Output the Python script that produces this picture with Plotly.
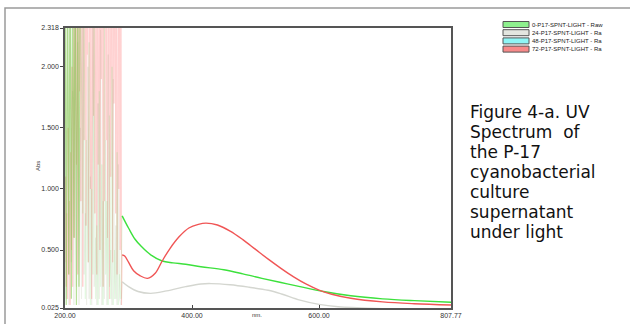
import plotly.graph_objects as go

# ---------------- data ----------------
# wavelength grids of the saturated (noisy) region
red_noise_nm = list(range(200, 290, 1))
noise_nm = list(range(200, 290, 2))

red_noise = [0.4, 1.1, 0.2, 0.8, 0.1, 1.5, 0.3, 0.9, 0.05, 1.3, 0.5, 2.0, 0.2, 1.0,
             3, 0.6, 3, 3, 1.2, 3, 0.3, 3, 3, 1.8, 3, 0.9, 3, 3, 0.2, 3, 1.4, 3, 3, 0.7,
             3, 2.1, 3, 0.4, 3, 3, 1.0, 3, 0.1, 3, 3, 1.6, 3, 0.8, 3, 3, 0.3, 3, 1.2, 3,
             3, 0.5, 3, 1.9, 3, 3, 0.2, 3, 0.9, 3, 3, 1.4, 3, 0.6, 3, 3, 0.1, 3, 1.1, 3,
             3, 0.4, 3, 1.7, 3, 3, 0.8, 3, 0.3, 3, 3, 1.0, 3, 0.5, 3, 0.05]
green_noise = [3, 0.05, 3, 0.3, 3, 0.1, 3, 0.6, 3, 0.05, 3, 0.2, 3,
               1.9, 0.8, 3, 0.1, 1.4, 0.4, 2.2, 0.05,
               1.0, 0.3, 2.6, 0.1, 0.7, 0.05, 1.8, 0.2,
               1.2, 0.05, 2.4, 0.3, 0.9, 0.05, 1.6, 0.1,
               2.0, 0.05, 0.5, 0.1, 1.3, 0.05, 0.3, 0.1]
gray_noise = [3, 0.1, 2.5, 0.05, 3, 0.4, 1.8, 0.05,
              3, 0.2, 2.2, 0.05, 1.5, 0.1, 3, 0.3,
              0.8, 0.05, 2.0, 0.1, 1.1, 0.05, 2.7, 0.2,
              0.6, 0.05, 1.7, 0.1, 2.3, 0.05, 0.9, 0.1,
              1.4, 0.05, 2.1, 0.2, 0.5, 0.05, 1.9, 0.1,
              0.7, 0.05, 1.2, 0.1, 0.05]

green_nm = [290, 300, 310, 320, 335, 353, 370, 390, 414, 450, 480, 510, 540,
            570, 607, 650, 700, 750, 807.77]
green_abs = [0.78, 0.68, 0.59, 0.53, 0.46, 0.41, 0.395, 0.383, 0.363, 0.338, 0.305,
             0.268, 0.234, 0.20, 0.16, 0.125, 0.10, 0.085, 0.072]

red_nm = [290, 294, 300, 308, 318, 330, 342, 353, 365, 380, 395, 410, 422, 440, 460,
          480, 500, 520, 540, 560, 580, 600, 620, 650, 700, 750, 807.77]
red_abs = [0.46, 0.45, 0.40, 0.33, 0.29, 0.268, 0.31, 0.41, 0.51, 0.61, 0.68, 0.71,
           0.72, 0.705, 0.655, 0.585, 0.505, 0.425, 0.35, 0.28, 0.22, 0.172, 0.138,
           0.105, 0.075, 0.06, 0.05]

gray_nm = [290, 300, 315, 335, 360, 390, 414, 430, 460, 490, 520, 541, 570, 600,
           630, 660, 700]
gray_abs = [0.24, 0.20, 0.16, 0.145, 0.165, 0.20, 0.222, 0.225, 0.215, 0.195, 0.17,
            0.14, 0.09, 0.055, 0.035, 0.027, 0.02]

legend_labels = ["0-P17-SPNT-LIGHT - Raw", "24-P17-SPNT-LIGHT - Ra",
                 "48-P17-SPNT-LIGHT - Ra", "72-P17-SPNT-LIGHT - Ra"]
legend_colors = ["#8ef08e", "#e4e6e0", "#8ff6f6", "#f78a8a"]

x_ticks = [200, 400, 600, 807.77]
x_ticktext = ["200.00", "400.00", "600.00", "807.77"]
y_ticks = [0.025, 0.5, 1.0, 1.5, 2.0, 2.318]
y_ticktext = ["0.025", "0.500", "1.000", "1.500", "2.000", "2.318"]

caption = ["Figure 4-a. UV", "Spectrum  of", "the P-17", "cyanobacterial",
           "culture", "supernatant", "under light"]

# ---------------- layout geometry ----------------
W, H = 630, 324
L, R, T, B = 65, 451, 28, 308
PW, PH = R - L, B - T


def px(xp):
    return (xp - L) / PW


def py(yp):
    return (B - yp) / PH


fig = go.Figure()

# noisy saturated region (joined to the first smooth point of each spectrum)
fig.add_trace(go.Scatter(x=red_noise_nm + [red_nm[0]], y=red_noise + [red_abs[0]],
                         mode="lines", line=dict(color="rgb(255,100,100)", width=1),
                         opacity=0.3, showlegend=False, hoverinfo="skip"))
fig.add_trace(go.Scatter(x=noise_nm + [gray_nm[0]], y=gray_noise + [gray_abs[0]], mode="lines",
                         line=dict(color="rgb(130,140,90)", width=1),
                         opacity=0.13, showlegend=False, hoverinfo="skip"))
fig.add_trace(go.Scatter(x=noise_nm[:13], y=green_noise[:13], mode="lines",
                         line=dict(color="rgb(110,195,50)", width=1.2),
                         opacity=0.5, showlegend=False, hoverinfo="skip"))
fig.add_trace(go.Scatter(x=noise_nm[12:] + [green_nm[0]], y=green_noise[12:] + [green_abs[0]],
                         mode="lines", line=dict(color="rgb(70,220,60)", width=1),
                         opacity=0.14, showlegend=False, hoverinfo="skip"))

# smooth spectra
fig.add_trace(go.Scatter(x=gray_nm, y=gray_abs, mode="lines", line_shape="spline",
                         line=dict(color="rgb(212,214,208)", width=1.4),
                         showlegend=False))
fig.add_trace(go.Scatter(x=green_nm, y=green_abs, mode="lines", line_shape="spline",
                         line=dict(color="rgb(60,225,60)", width=1.4),
                         showlegend=False))
fig.add_trace(go.Scatter(x=red_nm, y=red_abs, mode="lines", line_shape="spline",
                         line=dict(color="rgb(240,85,85)", width=1.4),
                         showlegend=False))

shapes = [
    # outer frame
    dict(type="rect", xref="paper", yref="paper",
         x0=px(5), x1=px(640), y0=py(345), y1=py(8),
         line=dict(color="#9a9a9a", width=1.5), fillcolor="rgba(0,0,0,0)", layer="below"),
]
annotations = []

# manual legend
for i, (lab, col) in enumerate(zip(legend_labels, legend_colors)):
    yc = 24.5 + i * 8.2
    shapes.append(dict(type="rect", xref="paper", yref="paper",
                       x0=px(503), x1=px(529), y0=py(yc + 3), y1=py(yc - 3),
                       line=dict(color="#555555", width=1), fillcolor=col))
    annotations.append(dict(x=px(530), y=py(yc), xref="paper", yref="paper",
                            text=lab, showarrow=False, xanchor="left", yanchor="middle",
                            font=dict(family="Liberation Sans", size=6, color="#222222")))

# caption text
for i, line in enumerate(caption):
    annotations.append(dict(x=px(468), y=py(112 + i * 20), xref="paper", yref="paper",
                            text=line, showarrow=False, xanchor="left", yanchor="middle",
                            font=dict(family="DejaVu Sans", size=17, color="#111111")))

# axis titles
annotations.append(dict(x=px(33), y=py(166), xref="paper", yref="paper", text="Abs",
                        showarrow=False, textangle=-90,
                        font=dict(family="Liberation Sans", size=6, color="#333333")))
annotations.append(dict(x=px(257), y=py(320), xref="paper", yref="paper", text="nm.",
                        showarrow=False,
                        font=dict(family="Liberation Sans", size=6, color="#333333")))

fig.update_layout(
    width=W, height=H,
    margin=dict(l=L, r=W - R, t=T, b=H - B, pad=0, autoexpand=False),
    paper_bgcolor="white", plot_bgcolor="white",
    shapes=shapes, annotations=annotations,
    xaxis=dict(range=[200, 807.77], tickvals=x_ticks, ticktext=x_ticktext,
               ticks="inside", ticklen=3, tickcolor="#444", showgrid=False, zeroline=False,
               showline=True, linecolor="#555555", linewidth=1.5, mirror=True,
               automargin=False,
               tickfont=dict(family="Liberation Sans", size=7, color="#333333")),
    yaxis=dict(range=[0.025, 2.318], tickvals=y_ticks, ticktext=y_ticktext,
               ticks="outside", ticklen=3, tickcolor="#444", showgrid=False, zeroline=False,
               showline=True, linecolor="#555555", linewidth=1.5, mirror=True,
               automargin=False,
               tickfont=dict(family="Liberation Sans", size=7, color="#333333")),
)

fig.write_html("out.html")
